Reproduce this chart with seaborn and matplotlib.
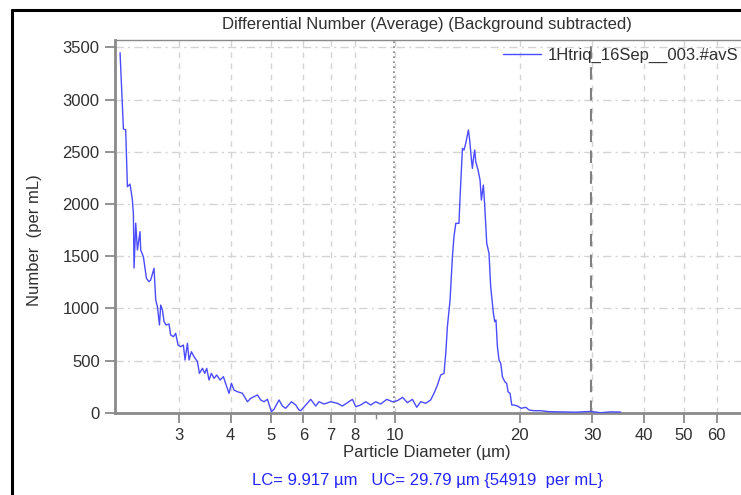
import matplotlib
matplotlib.use("Agg")
import matplotlib.pyplot as plt
from matplotlib.lines import Line2D
from matplotlib.ticker import FixedLocator, NullFormatter
import seaborn as sns
import pandas as pd

# Particle size distribution, differential number (background subtracted)
diameter_um = [
    2.160, 2.201, 2.229, 2.250, 2.283, 2.314, 2.327, 2.335, 2.357, 2.379,
    2.414, 2.423, 2.460, 2.502, 2.538, 2.562, 2.610, 2.635, 2.660, 2.690,
    2.709, 2.735, 2.760, 2.790, 2.837, 2.864, 2.908, 2.945, 2.983, 3.028,
    3.074, 3.102, 3.144, 3.172, 3.214, 3.262, 3.324, 3.361, 3.418, 3.462,
    3.501, 3.546, 3.593, 3.646, 3.701, 3.770, 3.842, 3.913, 3.964, 4.017,
    4.076, 4.154, 4.271, 4.392, 4.473, 4.643, 4.729, 4.817, 4.909, 5.020,
    5.093, 5.237, 5.337, 5.436, 5.612, 5.748, 5.854, 5.910, 6.077, 6.249,
    6.425, 6.544, 6.729, 6.985, 7.251, 7.455, 7.666, 7.883, 8.029, 8.256,
    8.489, 8.729, 8.976, 9.229, 9.543, 9.851, 10.13, 10.42, 10.71, 11.01,
    11.28, 11.53, 11.86, 12.19, 12.42, 12.66, 12.89, 13.13, 13.26, 13.38,
    13.58, 13.76, 13.88, 14.02, 14.27, 14.36, 14.55, 14.68, 14.82, 15.04,
    15.15, 15.30, 15.38, 15.47, 15.58, 15.67, 15.87, 16.05, 16.17, 16.35,
    16.47, 16.66, 16.87, 17.03, 17.29, 17.42, 17.54, 17.68, 17.84, 18.01,
    18.18, 18.42, 18.62, 18.76, 18.97, 19.15, 19.39, 19.76, 20.21, 20.70,
    21.09, 21.68, 22.50, 23.57, 25.16, 27.35, 29.73, 31.44, 33.24, 35.14,
]
number_per_ml = [
    3448, 2717, 2710, 2165, 2190, 2037, 1893, 1386, 1815, 1558,
    1734, 1558, 1494, 1287, 1255, 1271, 1383, 1079, 1015, 840,
    1031, 984, 872, 840, 850, 744, 728, 760, 648, 632,
    648, 505, 665, 505, 584, 536, 489, 377, 425, 377,
    425, 313, 377, 329, 361, 313, 345, 249, 186, 282,
    217, 201, 186, 105, 138, 170, 122, 105, 128, 10,
    33, 122, 64, 42, 105, 74, 26, 19, 74, 128,
    64, 105, 83, 105, 90, 64, 96, 128, 58, 74,
    105, 74, 105, 83, 128, 105, 115, 147, 96, 128,
    52, 105, 90, 122, 186, 265, 361, 377, 569, 824,
    1079, 1494, 1686, 1814, 1814, 2069, 2532, 2516, 2580, 2708,
    2612, 2420, 2340, 2436, 2516, 2404, 2325, 2229, 2037, 2181,
    1989, 1622, 1527, 1207, 952, 872, 888, 632, 505, 473,
    345, 297, 281, 201, 186, 74, 74, 64, 42, 52,
    26, 19, 19, 10, 8, 5, 12, 0, 8, 6,
]
series_name = "1Htriq_16Sep__003.#avS"
lower_cut, upper_cut = 9.917, 29.79
total_count = 54919
x_major = [3, 4, 5, 6, 7, 8, 10, 20, 30, 40, 50, 60]
x_minor = [9]
y_ticks = [0, 500, 1000, 1500, 2000, 2500, 3000, 3500]

df = pd.DataFrame({"d": diameter_um, "n": number_per_ml})

sns.set_style("white")
plt.rcParams["font.family"] = ["Liberation Sans", "DejaVu Sans"]

fig = plt.figure(figsize=(7.41, 4.95), dpi=100)
ax = fig.add_axes([115 / 741, 1 - 412.7 / 495, 629.4 / 741, (412.7 - 40) / 495])

grid_c = "#d4d4d4"
spine_c = "#8a8a8a"
text_c = "#303030"

ax.set_xscale("log")
ax.set_xlim(2.1, 70)
ax.set_ylim(0, 3570)

# grid: dash-dot horizontal, dashed vertical
for yv in y_ticks[1:]:
    ax.axhline(yv, color=grid_c, lw=1, ls=(0, (6, 3, 1.5, 3)), zorder=0)
for xv in x_major:
    ax.axvline(xv, color=grid_c, lw=1, ls=(0, (4, 4)), zorder=0)

# lower / upper cut markers
ax.axvline(lower_cut, color="#808080", lw=1.2, ls=(0, (1, 2)), zorder=1)
ax.axvline(upper_cut, color="#808080", lw=1.5, ls=(0, (6, 4)), zorder=1)

sns.lineplot(data=df, x="d", y="n", ax=ax, color="#4b4bff", lw=1.0,
             label=series_name, sort=False, zorder=3)

ax.xaxis.set_major_locator(FixedLocator(x_major))
ax.xaxis.set_minor_locator(FixedLocator(x_minor))
ax.xaxis.set_minor_formatter(NullFormatter())
ax.set_xticklabels([str(v) for v in x_major])
ax.set_yticks(y_ticks)
ax.set_yticklabels([str(v) for v in y_ticks])

ax.tick_params(axis="both", which="major", direction="out", length=7, width=1.3,
               color=spine_c, labelsize=12, labelcolor=text_c, pad=4, left=True, bottom=True)
ax.tick_params(axis="x", which="minor", direction="out", length=4, width=1.0,
               color=spine_c, bottom=True)

for side in ["left", "bottom"]:
    ax.spines[side].set_color(spine_c)
    ax.spines[side].set_linewidth(2)
ax.spines["top"].set_color(spine_c)
ax.spines["top"].set_linewidth(1)
ax.spines["right"].set_visible(False)

ax.set_xlabel("")
ax.set_ylabel("")

fig.text(427 / 741, 1 - 24 / 495, "Differential Number (Average) (Background subtracted)",
         ha="center", va="center", fontsize=12, color=text_c)
fig.text(35 / 741, 1 - 240 / 495, "Number  (per mL)", rotation=90,
         ha="center", va="center", fontsize=12, color=text_c)
fig.text(427 / 741, 1 - 453 / 495, "Particle Diameter (µm)",
         ha="center", va="center", fontsize=12, color=text_c)
fig.text(427 / 741, 1 - 481 / 495,
         f"LC= {lower_cut} µm   UC= {upper_cut} µm {{{total_count}  per mL}}",
         ha="center", va="center", fontsize=12, color="#2424ff")

leg = ax.legend(loc="center left", bbox_to_anchor=(503 / 741, 1 - 55 / 495),
                bbox_transform=fig.transFigure, frameon=False, fontsize=12,
                handlelength=2.3, handletextpad=0.4, borderpad=0, borderaxespad=0)
for t in leg.get_texts():
    t.set_color(text_c)

# outer frame
fig.add_artist(Line2D([12 / 741, 12 / 741], [0, 1 - 9.5 / 495],
                      transform=fig.transFigure, color="black", lw=2.2))
fig.add_artist(Line2D([12 / 741, 1], [1 - 9.5 / 495, 1 - 9.5 / 495],
                      transform=fig.transFigure, color="black", lw=2.2))

fig.savefig("out.png", dpi=100, facecolor="white")
